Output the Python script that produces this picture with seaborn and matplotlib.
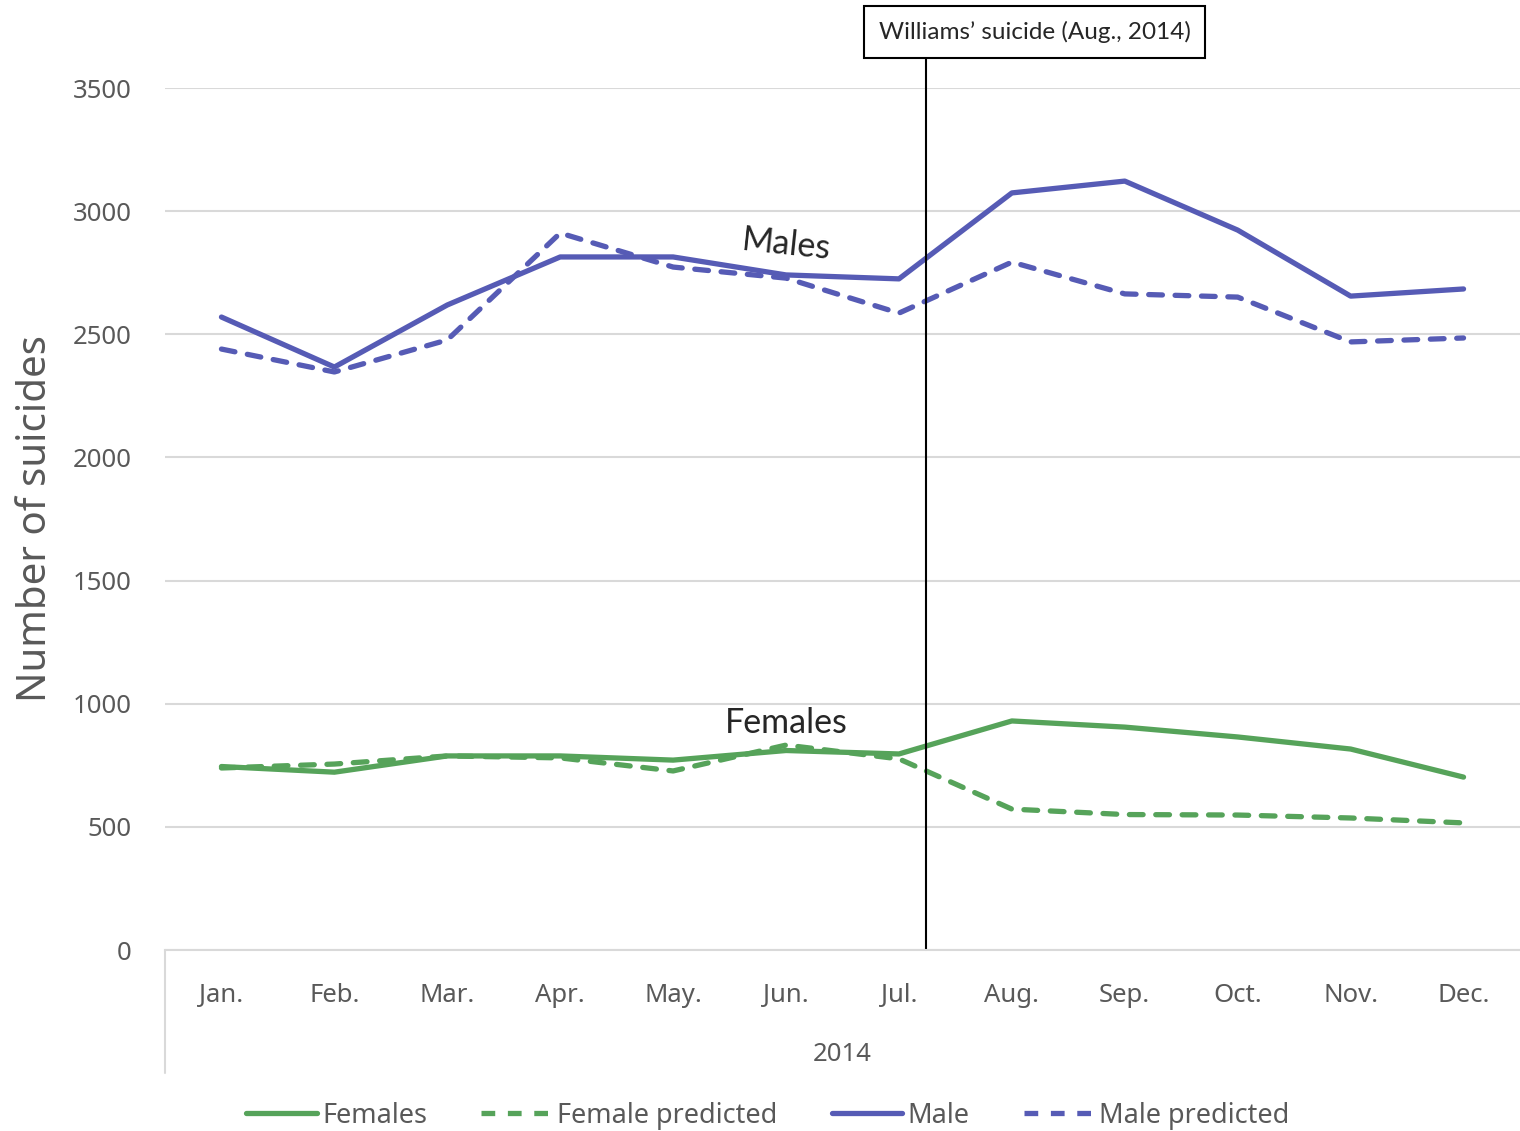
import numpy as np
import pandas as pd
import matplotlib.pyplot as plt
import seaborn as sns

# valores (2014)
meses = ["Jan.", "Feb.", "Mar.", "Apr.", "May.", "Jun.", "Jul.", "Aug.", "Sep.", "Oct.", "Nov.", "Dec."]
females = [745, 722, 788, 788, 771, 810, 796, 930, 905, 865, 816, 702]
female_predicted = [739, 755, 788, 780, 727, 832, 776, 572, 550, 548, 536, 516]
male = [2570, 2367, 2619, 2814, 2814, 2741, 2725, 3074, 3122, 2923, 2655, 2684]
male_predicted = [2440, 2347, 2477, 2911, 2773, 2728, 2586, 2793, 2664, 2651, 2469, 2485]

series = ["Females", "Female predicted", "Male", "Male predicted"]
tabela = pd.DataFrame({
    "mes": meses * 4,
    "serie": np.repeat(series, len(meses)),
    "valor": females + female_predicted + male + male_predicted,
})

verde = "#56A35A"
roxo = "#565BB5"
cinza = "#595959"

sns.set_style("white")
plt.rcParams["font.family"] = ["Noto Sans", "DejaVu Sans"]

fig = plt.figure(figsize=(15.2, 11.31), dpi=100)
ax = fig.add_axes([165 / 1520, 1 - 950 / 1131, 1 - 165 / 1520, 862 / 1131])

sns.lineplot(
    data=tabela, x="mes", y="valor", hue="serie", style="serie", ax=ax,
    palette={"Females": verde, "Female predicted": verde, "Male": roxo, "Male predicted": roxo},
    dashes={"Females": "", "Female predicted": (2.6, 2.4), "Male": "", "Male predicted": (2.6, 2.4)},
    linewidth=3.8, sort=False,
)
for linha in ax.lines:
    linha.set_dash_capstyle("round")

ax.set_xlim(-0.5, 11.5)
ax.set_ylim(0, 3500)
ax.set_yticks(range(0, 3501, 500))
ax.yaxis.grid(True, color="#D9D9D9", linewidth=1.5)
ax.set_axisbelow(True)
for lado in ["top", "right", "left"]:
    ax.spines[lado].set_visible(False)
ax.spines["bottom"].set_color("#D9D9D9")
ax.spines["bottom"].set_linewidth(1.5)
ax.tick_params(axis="both", length=0, labelsize=18.5, labelcolor=cinza)
ax.tick_params(axis="x", pad=24)
ax.tick_params(axis="y", pad=24)
ax.set_xlabel("")
ax.set_ylabel("Number of suicides", fontsize=29, color=cinza, labelpad=12)

# segundo nível do eixo (ano)
ax.text(5.5, -0.121, "2014", transform=ax.get_xaxis_transform(), ha="center", va="center",
        fontsize=18.5, color=cinza)
ax.plot([-0.5, -0.5], [0, -0.143], transform=ax.get_xaxis_transform(), color="#D9D9D9",
        linewidth=1.5, clip_on=False)

# linha vertical + caixa
ax.axvline(6.24, ymin=0, ymax=(950 - 56) / 862, color="black", linewidth=1.5, clip_on=False)
ax.text(7.2, 3727, "Williams\u2019 suicide (Aug., 2014)", ha="center", va="center", fontsize=17.5,
        family=["Lato", "DejaVu Sans"],
        bbox=dict(boxstyle="square,pad=0.6", facecolor="white", edgecolor="black", linewidth=1.5))

ax.text(5.0, 2862, "Males", fontsize=24.5, rotation=-6, ha="center", va="center",
        family=["Lato", "DejaVu Sans"])
ax.text(5.0, 922, "Females", fontsize=24.5, ha="center", va="center",
        family=["Lato", "DejaVu Sans"])

sns.move_legend(ax, "center", bbox_to_anchor=(0.445, -0.192), ncol=4, frameon=False, title=None,
                fontsize=19.5, handlelength=2.6, columnspacing=2.0, handletextpad=0.2, labelcolor=cinza)

fig.savefig("out.png", dpi=100)
